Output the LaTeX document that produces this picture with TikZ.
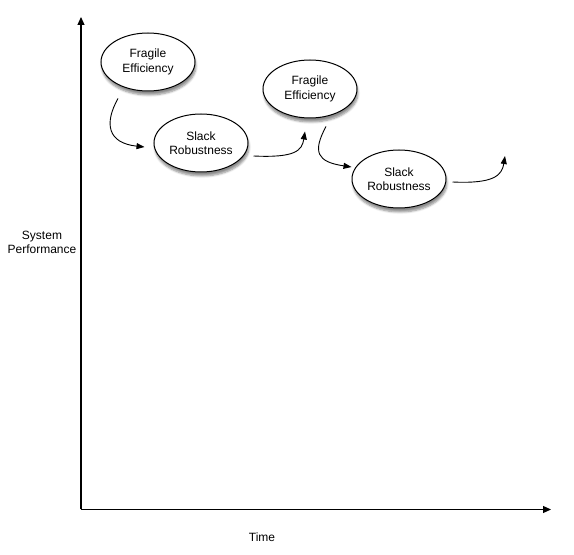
\documentclass[tikz,border=0pt]{standalone}
\usepackage{fontspec}
\setmainfont{Liberation Sans}
\usetikzlibrary{arrows.meta,shapes.geometric,shadows.blur}
\tikzset{
  axis/.style={-{Triangle[length=8pt,width=7pt]},line width=1.1pt},
  flow/.style={-{Triangle[length=8pt,width=6pt]},line width=0.9pt},
  phase/.style={ellipse,draw,line width=1pt,fill=white,minimum width=94pt,
    minimum height=58pt,inner sep=0pt,align=center,
    font=\fontsize{12}{14.5}\selectfont,
    blur shadow={shadow xshift=1pt,shadow yshift=-4pt,shadow blur steps=6,shadow opacity=45}},
  caption/.style={align=center,font=\fontsize{12}{13.5}\selectfont}
}

\begin{document}
\begin{tikzpicture}[x=1pt,y=1pt]
    \useasboundingbox (0,0) rectangle (574,555);

    % axes
    \coordinate (origin) at (81,45.5);
    \coordinate (ytip) at (81,538);
    \coordinate (xtip) at (551,45.5);
    \draw[axis] (origin) -- (ytip);
    \draw[axis] (origin) -- (xtip);
    \node[caption] (ylab) at (42,312.5) {System\\Performance};
    \node[caption] (xlab) at (262,18) {Time};

    % phases
    \node[phase] (fe1) at (148,493) {Fragile\\Efficiency};
    \node[phase] (sr1) at (201,412) {Slack\\Robustness};
    \node[phase] (fe2) at (310,466) {Fragile\\Efficiency};
    \node[phase] (sr2) at (399,376) {Slack\\Robustness};
    \coordinate (next) at (505,399);

    % transitions
    \draw[flow] ([shift={(-30,-7)}]fe1.south) .. controls +(-14,-25) and +(-37,4) .. ([shift={(-9,-4)}]sr1.west);
    \draw[flow] ([shift={(5,-13)}]sr1.east) .. controls +(42,-2) and +(-3,-19) .. ([shift={(-5,-13)}]fe2.south);
    \draw[flow] ([shift={(16,-8)}]fe2.south) .. controls +(-14,-26) and +(-34,5) .. ([shift={(0,12)}]sr2.west);
    \draw[flow] ([shift={(6,-3)}]sr2.east) .. controls +(42,-2) and +(-3,-19) .. (next);
  \end{tikzpicture}
\end{document}
